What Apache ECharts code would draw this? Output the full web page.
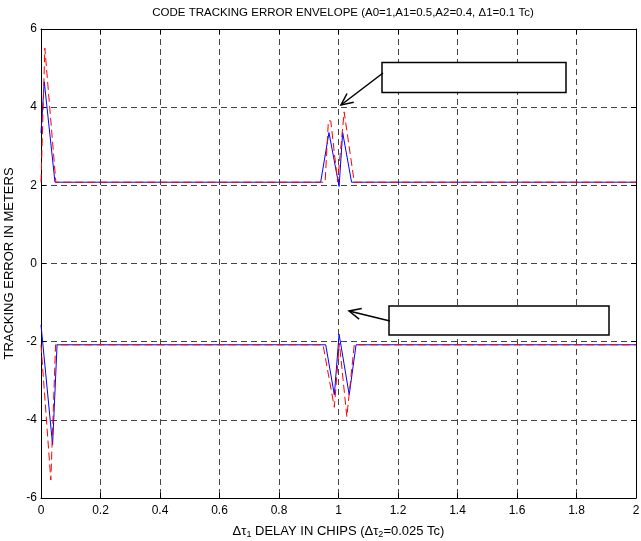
<!DOCTYPE html>
<html>
<head>
<meta charset="utf-8">
<script src="https://cdn.jsdelivr.net/npm/echarts@6/dist/echarts.min.js"></script>
<style>html,body{margin:0;padding:0;background:#fff}#c{width:641px;height:541px}</style>
</head>
<body>
<div id="c"></div>
<script>
const xTicks = [0, 0.2, 0.4, 0.6, 0.8, 1, 1.2, 1.4, 1.6, 1.8, 2];
const yTicks = [-6, -4, -2, 0, 2, 4, 6];

const blueUpperX = [0, 0.011, 0.047, 0.940, 0.968, 1.002, 1.014, 1.044, 2];
const blueUpperY = [3.34, 4.65, 2.08, 2.08, 3.35, 1.97, 3.35, 2.08, 2.08];

const blueLowerX = [0, 0.039, 0.054, 0.957, 0.986, 1.002, 1.036, 1.059, 2];
const blueLowerY = [-1.57, -4.64, -2.08, -2.08, -3.36, -1.81, -3.36, -2.08, -2.08];

const redUpperX = [0, 0.013, 0.050, 0.955, 0.966, 0.974, 0.997, 1.019, 1.053, 2];
const redUpperY = [2.08, 5.51, 2.08, 2.08, 3.65, 3.65, 2.09, 3.88, 2.08, 2.08];

const redLowerX = [0, 0.033, 0.049, 0.948, 0.986, 1.003, 1.028, 1.053, 2];
const redLowerY = [-2.08, -5.54, -2.08, -2.08, -3.68, -2.04, -3.92, -2.08, -2.08];

const title = 'CODE TRACKING ERROR ENVELOPE (A0=1,A1=0.5,A2=0.4, \u03941=0.1 Tc)';
const yLabel = 'TRACKING ERROR IN METERS';

function pairs(xs, ys) { return xs.map((x, i) => [x, ys[i]]); }

const FONT = '"Liberation Sans", Arial, sans-serif';
const chart = echarts.init(document.getElementById('c'));

function arrow(tip, from) {
  const dx = from[0] - tip[0], dy = from[1] - tip[1];
  const L = Math.hypot(dx, dy), ux = dx / L, uy = dy / L;
  const a = 25 * Math.PI / 180, h = 13;
  const w1 = [tip[0] + h * (ux * Math.cos(a) - uy * Math.sin(a)), tip[1] + h * (ux * Math.sin(a) + uy * Math.cos(a))];
  const w2 = [tip[0] + h * (ux * Math.cos(-a) - uy * Math.sin(-a)), tip[1] + h * (ux * Math.sin(-a) + uy * Math.cos(-a))];
  return [
    { type: 'line', shape: { x1: from[0], y1: from[1], x2: tip[0], y2: tip[1] }, style: { stroke: '#000', lineWidth: 1.5 }, z: 100 },
    { type: 'polyline', shape: { points: [w1, tip, w2] }, style: { stroke: '#000', lineWidth: 1.5, fill: null }, z: 100 }
  ];
}

const axisCommon = {
  type: 'value',
  axisLine: { show: true, onZero: false, lineStyle: { color: '#000', width: 1 } },
  axisTick: { show: true, inside: true, length: 5, lineStyle: { color: '#000' } },
};

const option = {
  animation: false,
  backgroundColor: '#fff',
  title: {
    text: title,
    left: 338, top: 2, textAlign: 'center',
    textStyle: { fontFamily: FONT, fontSize: 11.5, fontWeight: 'normal', color: '#000' }
  },
  grid: { left: 41, right: 5, top: 29, bottom: 43, outerBoundsMode: 'none', containLabel: false },
  xAxis: [
    Object.assign({}, axisCommon, {
      position: 'bottom', min: 0, max: 2, interval: 0.2,
      axisLabel: { color: '#000', fontFamily: FONT, fontSize: 12, margin: 7, formatter: v => String(Math.round(v * 10) / 10) },
      splitLine: { show: true, lineStyle: { color: '#444', type: [6, 4], width: 1 } },
      name: '{d|\u0394\u03c4}{s|1}{t| DELAY IN CHIPS (}{d|\u0394\u03c4}{s|2}{t|=0.025 Tc)}',
      nameLocation: 'middle', nameGap: 25,
      nameTextStyle: {
        fontFamily: FONT, fontSize: 13, color: '#000',
        rich: {
          d: { fontFamily: FONT, fontSize: 13, color: '#000' },
          t: { fontFamily: FONT, fontSize: 13, color: '#000' },
          s: { fontFamily: FONT, fontSize: 9, color: '#000', padding: [7, 0, 0, 0] }
        }
      }
    }),
    Object.assign({}, axisCommon, {
      position: 'top', min: 0, max: 2, interval: 0.2,
      axisLabel: { show: false }, splitLine: { show: false }
    })
  ],
  yAxis: [
    Object.assign({}, axisCommon, {
      position: 'left', min: -6, max: 6, interval: 2,
      axisLabel: { color: '#000', fontFamily: FONT, fontSize: 12, margin: 4 },
      splitLine: { show: true, lineStyle: { color: '#444', type: [6, 4], width: 1 } },
      name: yLabel, nameLocation: 'middle', nameGap: 20, nameRotate: 90,
      nameTextStyle: { fontFamily: FONT, fontSize: 13, color: '#000' }
    }),
    Object.assign({}, axisCommon, {
      position: 'right', min: -6, max: 6, interval: 2,
      axisLabel: { show: false }, splitLine: { show: false }
    })
  ],
  series: [
    { type: 'line', data: pairs(blueUpperX, blueUpperY), showSymbol: false, lineStyle: { color: '#0000ff', width: 1 }, z: 3 },
    { type: 'line', data: pairs(blueLowerX, blueLowerY), showSymbol: false, lineStyle: { color: '#0000ff', width: 1 }, z: 3 },
    { type: 'line', data: pairs(redUpperX, redUpperY), showSymbol: false, lineStyle: { color: '#ff0000', width: 1, type: [8, 4] }, z: 4 },
    { type: 'line', data: pairs(redLowerX, redLowerY), showSymbol: false, lineStyle: { color: '#ff0000', width: 1, type: [8, 4] }, z: 4 }
  ],
  graphic: [
    { type: 'rect', shape: { x: 382, y: 62.5, width: 184, height: 30 }, style: { fill: '#fff', stroke: '#000', lineWidth: 1.5 }, z: 100 },
    { type: 'rect', shape: { x: 389, y: 306, width: 220, height: 29 }, style: { fill: '#fff', stroke: '#000', lineWidth: 1.5 }, z: 100 },
    ...arrow([341, 105], [383, 73]),
    ...arrow([349, 311], [390, 321])
  ]
};
chart.setOption(option);
</script>
</body>
</html>
